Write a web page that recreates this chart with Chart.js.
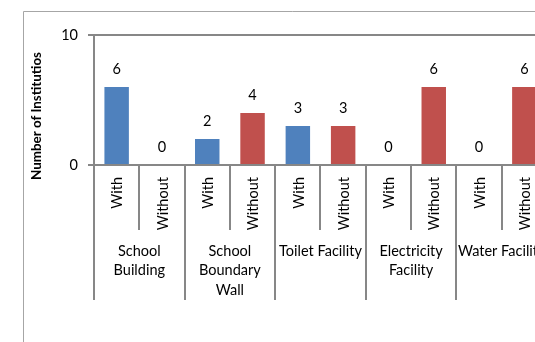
<!DOCTYPE html>
<html>
<head>
<meta charset="utf-8">
<script src="https://cdn.jsdelivr.net/npm/chart.js@4/dist/chart.umd.min.js"></script>
<style>
html,body{margin:0;padding:0;background:#fff;overflow:hidden;width:535px;height:342px;}
#wrap{position:absolute;left:0;top:0;width:560px;height:342px;}
canvas{display:block;}
</style>
</head>
<body>
<div id="wrap"><canvas id="c" width="560" height="342"></canvas></div>
<script>
// ---- data ----
const categories = [['School','Building'], ['School','Boundary','Wall'], ['Toilet Facility'], ['Electricity','Facility'], ['Water Facility']];
const subLabels = ['With', 'Without'];
const withValues = [6, 2, 3, 0, 0];
const withoutValues = [0, 4, 3, 6, 6];
const yTicks = [0, 10];
const yTitle = 'Number of Institutios';

// ---- build ----
const labels = [];
const values = [];
const colors = [];
const COL_WITH = '#4F81BD', COL_WITHOUT = '#C0504D';
categories.forEach((c, i) => {
  labels.push(subLabels[0]); values.push(withValues[i]); colors.push(COL_WITH);
  labels.push(subLabels[1]); values.push(withoutValues[i]); colors.push(COL_WITHOUT);
});

const FONT = 'Lato';
const AXIS_COL = '#878787';

// font sizes fitted to measured text widths in the reference
const mctx = document.createElement('canvas').getContext('2d');
function fitSize(text, weight, target, base) {
  mctx.font = weight + ' ' + base + 'px ' + FONT;
  const w = mctx.measureText(text).width;
  return base * target / w;
}
let LABEL_SIZE = 14.5, TITLE_SIZE = 12.5;

const deco = {
  id: 'deco',
  beforeDraw(chart) {
    const ctx = chart.ctx;
    ctx.save();
    ctx.strokeStyle = '#a6a6a6';
    ctx.lineWidth = 1;
    ctx.beginPath();
    ctx.moveTo(23.5, chart.height + 5);
    ctx.lineTo(23.5, 11.5);
    ctx.lineTo(chart.width + 5, 11.5);
    ctx.stroke();
    ctx.restore();
  },
  afterDraw(chart) {
    const ctx = chart.ctx;
    const xs = chart.scales.x, ys = chart.scales.y;
    const slotW = xs.getPixelForValue(1) - xs.getPixelForValue(0);
    const y0 = ys.getPixelForValue(0);
    ctx.save();
    // separators
    ctx.strokeStyle = AXIS_COL;
    ctx.lineWidth = 2;
    for (let i = 0; i <= labels.length; i++) {
      const px = Math.round(xs.getPixelForValue(0) - slotW / 2 + i * slotW);
      const len = (i % 2 === 0) ? 135 : 65;
      ctx.beginPath();
      ctx.moveTo(px, y0);
      ctx.lineTo(px, y0 + len);
      ctx.stroke();
    }
    // sub labels (rotated)
    ctx.fillStyle = '#000';
    ctx.font = LABEL_SIZE + 'px ' + FONT;
    ctx.textAlign = 'right';
    ctx.textBaseline = 'middle';
    labels.forEach((l, i) => {
      const px = xs.getPixelForValue(i);
      ctx.save();
      ctx.translate(px + 1, y0 + 12);
      ctx.rotate(-Math.PI / 2);
      ctx.fillText(l, 0, 0);
      ctx.restore();
    });
    // category labels
    ctx.textAlign = 'center';
    categories.forEach((lines, k) => {
      const cx = (xs.getPixelForValue(2 * k) + xs.getPixelForValue(2 * k + 1)) / 2;
      lines.forEach((t, j) => {
        ctx.fillText(t, cx, 251 + j * 19.5);
      });
    });
    // data labels
    const meta = chart.getDatasetMeta(0);
    meta.data.forEach((bar, i) => {
      ctx.fillText(String(values[i]), bar.x, bar.y - 18);
    });
    // y title
    ctx.font = 'bold ' + TITLE_SIZE + 'px ' + FONT;
    ctx.save();
    ctx.translate(37, 116);
    ctx.rotate(-Math.PI / 2);
    ctx.fillText(yTitle, 0, 0);
    ctx.restore();
    ctx.restore();
  }
};

function build() {
  LABEL_SIZE = Math.min(16, Math.max(12, fitSize('Toilet Facility', 'normal', 83, 14)));
  TITLE_SIZE = Math.min(15, Math.max(11, fitSize(yTitle, 'bold', 128, 14)));
  new Chart(document.getElementById('c'), {
    type: 'bar',
    data: {
      labels: labels,
      datasets: [{
        data: values,
        backgroundColor: colors,
        borderWidth: 0,
        categoryPercentage: 1.0,
        barPercentage: 0.54
      }]
    },
    options: {
      responsive: false,
      devicePixelRatio: 1,
      animation: false,
      layout: { padding: { left: 24, top: 35, right: 13, bottom: 0 } },
      plugins: { legend: { display: false }, tooltip: { enabled: false }, title: { display: false } },
      scales: {
        x: {
          type: 'category',
          offset: true,
          grid: { display: false },
          ticks: { display: false },
          border: { display: true, color: AXIS_COL, width: 2 },
          afterFit(s) { s.height = 342 - 165; }
        },
        y: {
          min: 0, max: 10,
          afterBuildTicks(s) { s.ticks = yTicks.map(v => ({ value: v })); },
          ticks: { color: '#000', font: { family: FONT, size: LABEL_SIZE }, padding: 10 },
          grid: { color: AXIS_COL, lineWidth: 2, tickLength: 6, drawOnChartArea: true },
          border: { display: true, color: AXIS_COL, width: 2 },
          title: { display: false },
          afterFit(s) { s.width = 94 - 24; }
        }
      }
    },
    plugins: [deco]
  });
}
if (document.fonts && document.fonts.load) {
  Promise.all([
    document.fonts.load('14px ' + FONT),
    document.fonts.load('bold 14px ' + FONT)
  ]).then(build, build);
} else {
  build();
}
</script>
</body>
</html>
